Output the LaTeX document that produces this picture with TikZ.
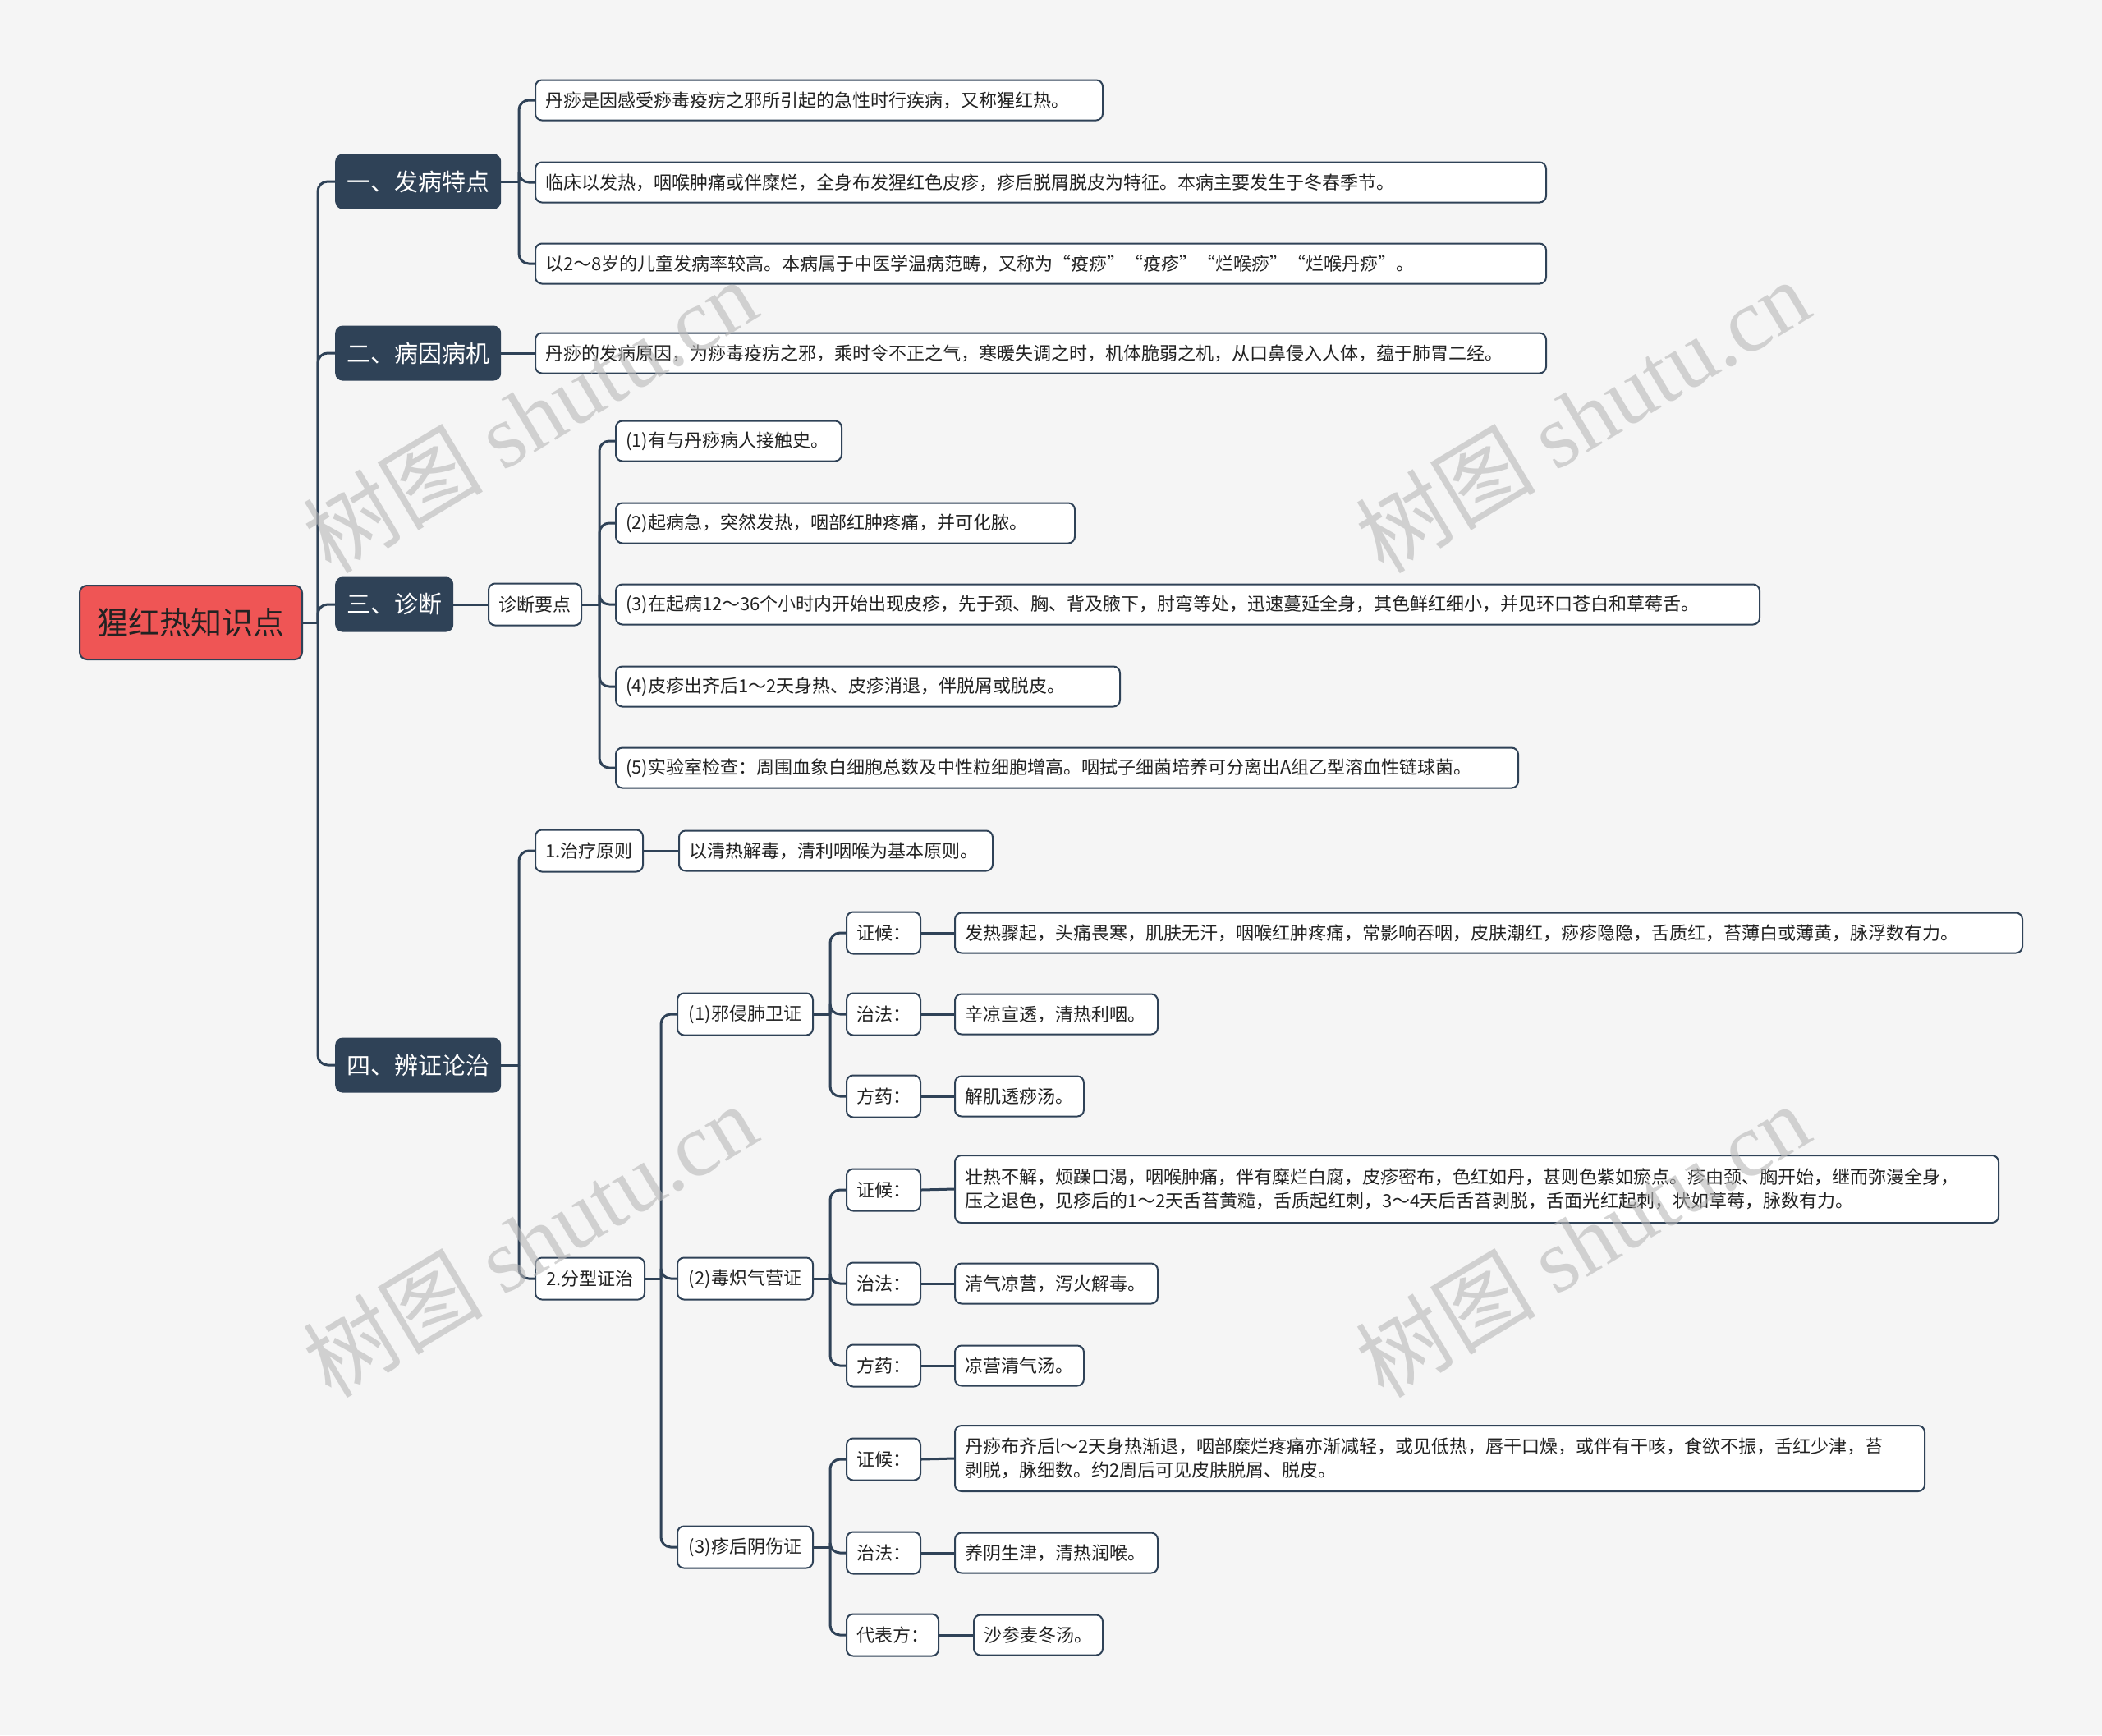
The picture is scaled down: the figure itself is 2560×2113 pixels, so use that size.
\documentclass[tikz,border=0pt]{standalone}
\usepackage{fontspec}
\setmainfont{Noto Sans CJK SC}
\newfontfamily\wmlatin{Liberation Serif}
\usetikzlibrary{calc}
\definecolor{bgc}{HTML}{F5F5F5}
\definecolor{dk}{HTML}{2F4257}
\definecolor{rootc}{HTML}{EF5555}
\definecolor{txt}{HTML}{222222}
\definecolor{wmc}{HTML}{B8B8B8}
\tikzset{
  conn/.style={draw=dk, line width=3pt, rounded corners=12pt},
  rootbox/.style={draw=dk, line width=2pt, fill=rootc, rounded corners=9pt, text=txt,
    font=\fontsize{38}{44}\selectfont, minimum width=271pt, minimum height=90pt, anchor=west, inner sep=0pt},
  lvone/.style={fill=dk, rounded corners=9pt, text=white, font=\fontsize{29}{34}\selectfont,
    minimum height=67pt, inner xsep=14pt, inner ysep=0pt, anchor=west},
  leafbox/.style={draw=dk, line width=2pt, fill=white, rounded corners=8pt, text=txt,
    font=\fontsize{22}{29}\selectfont, minimum height=49pt, inner xsep=12pt, inner ysep=0pt,
    anchor=west, align=left, text width=#1},
  tagbox/.style={draw=dk, line width=2pt, fill=white, rounded corners=8pt, text=txt,
    font=\fontsize{22}{29}\selectfont, minimum height=51pt, inner xsep=12pt, inner ysep=0pt,
    anchor=west, minimum width=#1},
  wmark/.style={text=wmc, opacity=0.6, rotate=31, font=\fontsize{110}{120}\selectfont},
}
\begin{document}
\begin{tikzpicture}[x=1pt,y=-1pt]
\fill[bgc] (0,0) rectangle (2560,2113);
\useasboundingbox (0,0) rectangle (2560,2113);

% branch x coordinates
\coordinate (bt) at (387,0);
\coordinate (ba) at (632,0);
\coordinate (bc) at (730,0);
\coordinate (bd) at (632,0);
\coordinate (be) at (805,0);
\coordinate (bf) at (1011,0);

% root and level one
\node[rootbox] (root) at (96,758) {猩红热知识点};
\node[lvone] (A) at (408,221) {一、发病特点};
\node[lvone] (B) at (408,430) {二、病因病机};
\node[lvone] (C) at (408,736) {三、诊断};
\node[lvone] (D) at (408,1297) {四、辨证论治};

% section one
\node[leafbox=667pt] (A1) at (651,122) {丹痧是因感受痧毒疫疠之邪所引起的急性时行疾病，又称猩红热。};
\node[leafbox=1207pt] (A2) at (651,222) {临床以发热，咽喉肿痛或伴糜烂，全身布发猩红色皮疹，疹后脱屑脱皮为特征。本病主要发生于冬春季节。};
\node[leafbox=1207pt] (A3) at (651,321) {以2～8岁的儿童发病率较高。本病属于中医学温病范畴，又称为“疫痧”“疫疹”“烂喉痧”“烂喉丹痧”。};

% section two
\node[leafbox=1207pt] (B1) at (651,430) {丹痧的发病原因，为痧毒疫疠之邪，乘时令不正之气，寒暖失调之时，机体脆弱之机，从口鼻侵入人体，蕴于肺胃二经。};

% section three
\node[tagbox=113pt] (C0) at (594,736) {诊断要点};
\node[leafbox=251pt] (C1) at (749,537) {(1)有与丹痧病人接触史。};
\node[leafbox=535pt] (C2) at (749,637) {(2)起病急，突然发热，咽部红肿疼痛，并可化脓。};
\node[leafbox=1369pt] (C3) at (749,736) {(3)在起病12～36个小时内开始出现皮疹，先于颈、胸、背及腋下，肘弯等处，迅速蔓延全身，其色鲜红细小，并见环口苍白和草莓舌。};
\node[leafbox=590pt] (C4) at (749,836) {(4)皮疹出齐后1～2天身热、皮疹消退，伴脱屑或脱皮。};
\node[leafbox=1075pt] (C5) at (749,935) {(5)实验室检查：周围血象白细胞总数及中性粒细胞增高。咽拭子细菌培养可分离出A组乙型溶血性链球菌。};

% section four
\node[tagbox=131pt] (D1) at (651,1036) {1.治疗原则};
\node[leafbox=358pt] (D1a) at (826,1036) {以清热解毒，清利咽喉为基本原则。};
\node[tagbox=133pt] (D2) at (651,1557) {2.分型证治};

\node[tagbox=165pt] (E1) at (824,1235) {(1)邪侵肺卫证};
\node[tagbox=165pt] (E2) at (824,1557) {(2)毒炽气营证};
\node[tagbox=165pt] (E3) at (824,1884) {(3)疹后阴伤证};

\node[tagbox=90pt] (E1a) at (1030,1136) {证候：};
\node[tagbox=90pt] (E1b) at (1030,1235) {治法：};
\node[tagbox=90pt] (E1c) at (1030,1335) {方药：};
\node[leafbox=1276pt] (F1a) at (1162,1136) {发热骤起，头痛畏寒，肌肤无汗，咽喉红肿疼痛，常影响吞咽，皮肤潮红，痧疹隐隐，舌质红，苔薄白或薄黄，脉浮数有力。};
\node[leafbox=223pt] (F1b) at (1162,1235) {辛凉宣透，清热利咽。};
\node[leafbox=133pt] (F1c) at (1162,1335) {解肌透痧汤。};

\node[tagbox=90pt] (E2a) at (1030,1449) {证候：};
\node[tagbox=90pt] (E2b) at (1030,1563) {治法：};
\node[tagbox=90pt] (E2c) at (1030,1663) {方药：};
\node[leafbox=1247pt, minimum height=82pt] (F2a) at (1162,1448) {壮热不解，烦躁口渴，咽喉肿痛，伴有糜烂白腐，皮疹密布，色红如丹，甚则色紫如瘀点。疹由颈、胸开始，继而弥漫全身，\\压之退色，见疹后的1～2天舌苔黄糙，舌质起红刺，3～4天后舌苔剥脱，舌面光红起刺，状如草莓，脉数有力。};
\node[leafbox=223pt] (F2b) at (1162,1563) {清气凉营，泻火解毒。};
\node[leafbox=133pt] (F2c) at (1162,1663) {凉营清气汤。};

\node[tagbox=90pt] (E3a) at (1030,1777) {证候：};
\node[tagbox=90pt] (E3b) at (1030,1891) {治法：};
\node[tagbox=111pt] (E3c) at (1030,1991) {代表方：};
\node[leafbox=1157pt, minimum height=80pt] (F3a) at (1162,1776) {丹痧布齐后l～2天身热渐退，咽部糜烂疼痛亦渐减轻，或见低热，唇干口燥，或伴有干咳，食欲不振，舌红少津，苔\\剥脱，脉细数。约2周后可见皮肤脱屑、脱皮。};
\node[leafbox=223pt] (F3b) at (1162,1891) {养阴生津，清热润喉。};
\node[leafbox=133pt] (F3c) at (1185,1991) {沙参麦冬汤。};

% connectors: root trunk
\draw[conn] (root.east) -- (root.east -| bt);
\foreach \c in {A,B,C,D} \draw[conn] (root.east -| bt) |- (\c.west);
% one
\draw[conn] (A.east) -- (A.east -| ba);
\foreach \c in {A1,A2,A3} \draw[conn] (A.east -| ba) |- (\c.west);
% two
\draw[conn] (B.east) -- (B1.west);
% three
\draw[conn] (C.east) -- (C0.west);
\draw[conn] (C0.east) -- (C0.east -| bc);
\foreach \c in {C1,C2,C3,C4,C5} \draw[conn] (C0.east -| bc) |- (\c.west);
% four
\draw[conn] (D.east) -- (D.east -| bd);
\foreach \c in {D1,D2} \draw[conn] (D.east -| bd) |- (\c.west);
\draw[conn] (D1.east) -- (D1a.west);
\draw[conn] (D2.east) -- (D2.east -| be);
\foreach \c in {E1,E2,E3} \draw[conn] (D2.east -| be) |- (\c.west);
\foreach \p in {E1,E2,E3} {
  \draw[conn] (\p.east) -- (\p.east -| bf);
  \foreach \s in {a,b,c} \draw[conn] (\p.east -| bf) |- (\p\s.west);
}
\draw[conn] (E1a.east) -- (F1a.west);
\draw[conn] (E1b.east) -- (F1b.west);
\draw[conn] (E1c.east) -- (F1c.west);
\draw[conn] (E2a.east) -- (F2a.west);
\draw[conn] (E2b.east) -- (F2b.west);
\draw[conn] (E2c.east) -- (F2c.west);
\draw[conn] (E3a.east) -- (F3a.west);
\draw[conn] (E3b.east) -- (F3b.west);
\draw[conn] (E3c.east) -- (F3c.west);

% watermarks
\node[wmark] (w1) at (645,506) {树图 {\wmlatin shutu.cn}};
\node[wmark] (w2) at (1927,506) {树图 {\wmlatin shutu.cn}};
\node[wmark] (w3) at (645,1510) {树图 {\wmlatin shutu.cn}};
\node[wmark] (w4) at (1927,1510) {树图 {\wmlatin shutu.cn}};
\end{tikzpicture}
\end{document}
